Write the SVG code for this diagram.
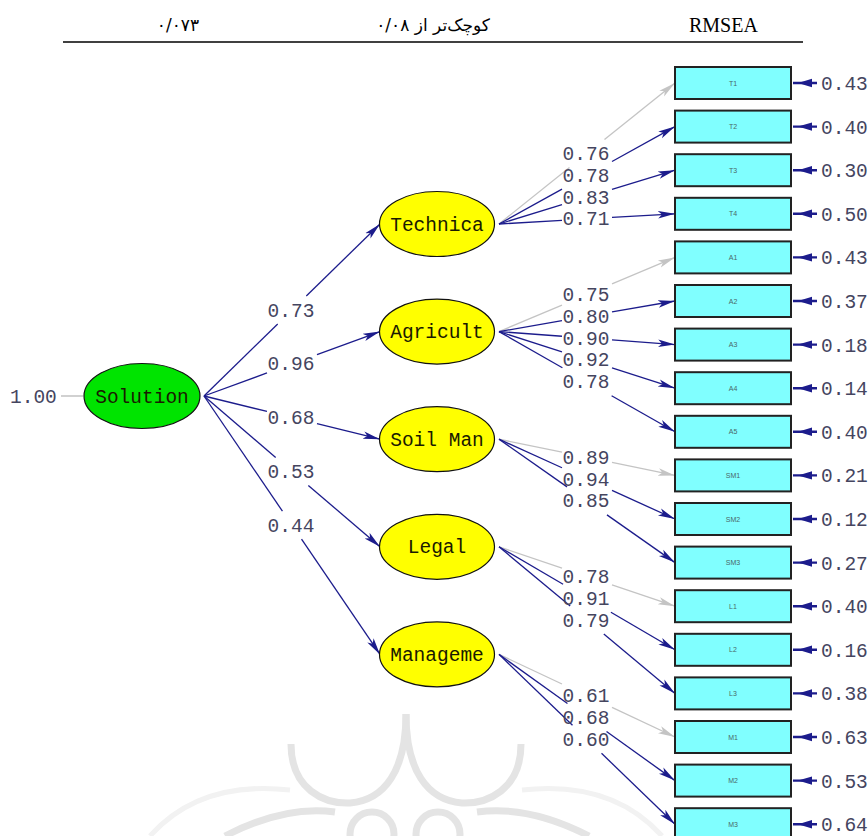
<svg xmlns="http://www.w3.org/2000/svg" width="868" height="836" viewBox="0 0 868 836">
<style>
.ln{stroke:#1c1c8c;stroke-width:1.3;fill:none}
.lg{stroke:#c4c4c4;stroke-width:1.3;fill:none}
.num{font-family:"Liberation Mono",monospace;font-size:19.5px;fill:#45455f}
.numc{font-family:"Liberation Mono",monospace;font-size:19.5px;fill:#45455f;text-anchor:middle}
.lat{fill:#ffff00;stroke:#111;stroke-width:1.2}
.sol{fill:#00e400;stroke:#111;stroke-width:1.2}
.lbl{font-family:"Liberation Mono",monospace;font-size:19.5px;fill:#1a1a00;text-anchor:middle}
.bx{fill:#80ffff;stroke:#222;stroke-width:2}
.bt{font-family:"Liberation Sans",sans-serif;font-size:7px;fill:#4a6868;text-anchor:middle}
.err{stroke:#1c1c8c;stroke-width:2.4;fill:none}
.eh{fill:#1c1c8c}
.wm{stroke:#e4e4e4;stroke-width:7;fill:none}
.wm2{stroke:#f2f2f2;stroke-width:5;fill:none}
.fa{font-family:"DejaVu Sans",sans-serif;font-size:17px;fill:#000;text-anchor:middle}
</style>
<defs>
<marker id="an" markerUnits="userSpaceOnUse" markerWidth="17" markerHeight="10" viewBox="0 0 17 10" refX="17" refY="5" orient="auto">
<path d="M0,1.2 L17,5 L0,8.8 L4,5 z" fill="#1c1c8c"/>
</marker>
<marker id="ag" markerUnits="userSpaceOnUse" markerWidth="17" markerHeight="10" viewBox="0 0 17 10" refX="17" refY="5" orient="auto">
<path d="M0,1.2 L17,5 L0,8.8 L4,5 z" fill="#c4c4c4"/>
</marker>
</defs>
<rect width="868" height="836" fill="#ffffff"/>

<g id="watermark">
<path class="wm2" d="M150,836 Q200,780 290,790"/>
<path class="wm2" d="M662,836 Q612,780 522,790"/>
<path class="wm" d="M291,744 C291,790 325,804 350,803 C385,800 406,770 406,714"/>
<path class="wm" d="M406,714 C406,770 427,800 462,803 C487,804 521,790 521,744"/>
<circle class="wm" cx="372" cy="834" r="22"/>
<circle class="wm" cx="438" cy="834" r="22"/>
<path class="wm" d="M225,836 Q285,805 335,812"/>
<path class="wm" d="M589,836 Q529,805 477,812"/>
</g>

<g id="header">
<text x="689" y="32" font-family="Liberation Serif,serif" font-size="20" fill="#000">RMSEA</text>
<text class="fa" x="433" y="31">کوچک‌تر از ۰/۰۸</text>
<text class="fa" x="178" y="31">۰/۰۷۳</text>
<line x1="63" y1="42" x2="803" y2="42" stroke="#000" stroke-width="1.5"/>
</g>

<g id="connectors">
<line x1="61" y1="396" x2="83" y2="396" stroke="#b8b8b8" stroke-width="1.3"/>
<line class="ln" x1="204" y1="396" x2="277.7" y2="324"/><line class="ln" x1="306.3" y1="296" x2="380" y2="224" marker-end="url(#an)"/>
<line class="ln" x1="204" y1="396" x2="267" y2="372.95"/><line class="ln" x1="317" y1="354.65" x2="380" y2="331.6" marker-end="url(#an)"/>
<line class="ln" x1="204" y1="396" x2="267" y2="411.46"/><line class="ln" x1="317" y1="423.74" x2="380" y2="439.2" marker-end="url(#an)"/>
<line class="ln" x1="204" y1="396" x2="275.66" y2="457.4"/><line class="ln" x1="308.34" y1="485.4" x2="380" y2="546.8" marker-end="url(#an)"/>
<line class="ln" x1="204" y1="396" x2="282.46" y2="511.2"/><line class="ln" x1="301.54" y1="539.2" x2="380" y2="654.4" marker-end="url(#an)"/>
<line class="lg" x1="499" y1="224" x2="569.5" y2="167.5"/><line class="lg" x1="604.5" y1="139.5" x2="675" y2="83" marker-end="url(#ag)"/>
<line class="ln" x1="499" y1="224" x2="562" y2="189.14"/><line class="ln" x1="612" y1="161.46" x2="675" y2="126.6" marker-end="url(#an)"/>
<line class="ln" x1="499" y1="224" x2="562" y2="204.74"/><line class="ln" x1="612" y1="189.46" x2="675" y2="170.2" marker-end="url(#an)"/>
<line class="ln" x1="499" y1="224" x2="562" y2="220.35"/><line class="ln" x1="612" y1="217.45" x2="675" y2="213.8" marker-end="url(#an)"/>
<line class="lg" x1="499" y1="331.6" x2="562" y2="305.04"/><line class="lg" x1="612" y1="283.96" x2="675" y2="257.4" marker-end="url(#ag)"/>
<line class="ln" x1="499" y1="331.6" x2="562" y2="320.65"/><line class="ln" x1="612" y1="311.95" x2="675" y2="301" marker-end="url(#an)"/>
<line class="ln" x1="499" y1="331.6" x2="562" y2="336.25"/><line class="ln" x1="612" y1="339.95" x2="675" y2="344.6" marker-end="url(#an)"/>
<line class="ln" x1="499" y1="331.6" x2="562" y2="351.86"/><line class="ln" x1="612" y1="367.94" x2="675" y2="388.2" marker-end="url(#an)"/>
<line class="ln" x1="499" y1="331.6" x2="562.41" y2="367.7"/><line class="ln" x1="611.59" y1="395.7" x2="675" y2="431.8" marker-end="url(#an)"/>
<line class="lg" x1="499" y1="439.2" x2="562" y2="452.16"/><line class="lg" x1="612" y1="462.44" x2="675" y2="475.4" marker-end="url(#ag)"/>
<line class="ln" x1="499" y1="439.2" x2="562" y2="467.76"/><line class="ln" x1="612" y1="490.44" x2="675" y2="519" marker-end="url(#an)"/>
<line class="ln" x1="499" y1="439.2" x2="567.03" y2="486.9"/><line class="ln" x1="606.97" y1="514.9" x2="675" y2="562.6" marker-end="url(#an)"/>
<line class="lg" x1="499" y1="546.8" x2="562" y2="568.06"/><line class="lg" x1="612" y1="584.94" x2="675" y2="606.2" marker-end="url(#ag)"/>
<line class="ln" x1="499" y1="546.8" x2="563.08" y2="584.3"/><line class="ln" x1="610.92" y1="612.3" x2="675" y2="649.8" marker-end="url(#an)"/>
<line class="ln" x1="499" y1="546.8" x2="570.19" y2="606.1"/><line class="ln" x1="603.81" y1="634.1" x2="675" y2="693.4" marker-end="url(#an)"/>
<line class="lg" x1="499" y1="654.4" x2="562" y2="683.97"/><line class="lg" x1="612" y1="707.43" x2="675" y2="737" marker-end="url(#ag)"/>
<line class="ln" x1="499" y1="654.4" x2="567.47" y2="703.5"/><line class="ln" x1="606.53" y1="731.5" x2="675" y2="780.6" marker-end="url(#an)"/>
<line class="ln" x1="499" y1="654.4" x2="572.49" y2="725.3"/><line class="ln" x1="601.51" y1="753.3" x2="675" y2="824.2" marker-end="url(#an)"/>
<g id="errors">
<path class="err" d="M793,83H817M793,126.6H817M793,170.2H817M793,213.8H817M793,257.4H817M793,301H817M793,344.6H817M793,388.2H817M793,431.8H817M793,475.4H817M793,519H817M793,562.6H817M793,606.2H817M793,649.8H817M793,693.4H817M793,737H817M793,780.6H817M793,824.2H817"/>
<path class="eh" d="M798,83l14,-4.2v8.4zM798,126.6l14,-4.2v8.4zM798,170.2l14,-4.2v8.4zM798,213.8l14,-4.2v8.4zM798,257.4l14,-4.2v8.4zM798,301l14,-4.2v8.4zM798,344.6l14,-4.2v8.4zM798,388.2l14,-4.2v8.4zM798,431.8l14,-4.2v8.4zM798,475.4l14,-4.2v8.4zM798,519l14,-4.2v8.4zM798,562.6l14,-4.2v8.4zM798,606.2l14,-4.2v8.4zM798,649.8l14,-4.2v8.4zM798,693.4l14,-4.2v8.4zM798,737l14,-4.2v8.4zM798,780.6l14,-4.2v8.4zM798,824.2l14,-4.2v8.4z"/>
</g>
<g id="path-labels">
<text class="num" x="10" y="402.5">1.00</text>
<text class="numc" x="291" y="316.5">0.73</text>
<text class="numc" x="291" y="370.3">0.96</text>
<text class="numc" x="291" y="424.1">0.68</text>
<text class="numc" x="291" y="477.9">0.53</text>
<text class="numc" x="291" y="531.7">0.44</text>
<text class="numc" x="586" y="160">0.76</text>
<text class="numc" x="586" y="181.8">0.78</text>
<text class="numc" x="586" y="203.6">0.83</text>
<text class="numc" x="586" y="225.4">0.71</text>
<text class="numc" x="586" y="301">0.75</text>
<text class="numc" x="586" y="322.8">0.80</text>
<text class="numc" x="586" y="344.6">0.90</text>
<text class="numc" x="586" y="366.4">0.92</text>
<text class="numc" x="586" y="388.2">0.78</text>
<text class="numc" x="586" y="463.8">0.89</text>
<text class="numc" x="586" y="485.6">0.94</text>
<text class="numc" x="586" y="507.4">0.85</text>
<text class="numc" x="586" y="583">0.78</text>
<text class="numc" x="586" y="604.8">0.91</text>
<text class="numc" x="586" y="626.6">0.79</text>
<text class="numc" x="586" y="702.2">0.61</text>
<text class="numc" x="586" y="724">0.68</text>
<text class="numc" x="586" y="745.8">0.60</text>
</g>
</g>

<g id="Solution"><ellipse class="sol" cx="142" cy="396" rx="58" ry="32.5"/><text class="lbl" x="142" y="402.5">Solution</text></g>
<g id="Technica"><ellipse class="lat" cx="437" cy="224" rx="57.5" ry="32.5"/><text class="lbl" x="437" y="230.5">Technica</text></g>
<g id="Agricult"><ellipse class="lat" cx="437" cy="331.6" rx="57.5" ry="32.5"/><text class="lbl" x="437" y="338.1">Agricult</text></g>
<g id="SoilMan"><ellipse class="lat" cx="437" cy="439.2" rx="57.5" ry="32.5"/><text class="lbl" x="437" y="445.7">Soil Man</text></g>
<g id="Legal"><ellipse class="lat" cx="437" cy="546.8" rx="57.5" ry="32.5"/><text class="lbl" x="437" y="553.3">Legal</text></g>
<g id="Manageme"><ellipse class="lat" cx="437" cy="654.4" rx="57.5" ry="32.5"/><text class="lbl" x="437" y="660.9">Manageme</text></g>

<g id="T1"><rect class="bx" x="675" y="67" width="116" height="32"/><text class="bt" x="733" y="85.5">T1</text><text class="num" x="821" y="90">0.43</text></g>
<g id="T2"><rect class="bx" x="675" y="110.6" width="116" height="32"/><text class="bt" x="733" y="129.1">T2</text><text class="num" x="821" y="133.6">0.40</text></g>
<g id="T3"><rect class="bx" x="675" y="154.2" width="116" height="32"/><text class="bt" x="733" y="172.7">T3</text><text class="num" x="821" y="177.2">0.30</text></g>
<g id="T4"><rect class="bx" x="675" y="197.8" width="116" height="32"/><text class="bt" x="733" y="216.3">T4</text><text class="num" x="821" y="220.8">0.50</text></g>
<g id="A1"><rect class="bx" x="675" y="241.4" width="116" height="32"/><text class="bt" x="733" y="259.9">A1</text><text class="num" x="821" y="264.4">0.43</text></g>
<g id="A2"><rect class="bx" x="675" y="285" width="116" height="32"/><text class="bt" x="733" y="303.5">A2</text><text class="num" x="821" y="308">0.37</text></g>
<g id="A3"><rect class="bx" x="675" y="328.6" width="116" height="32"/><text class="bt" x="733" y="347.1">A3</text><text class="num" x="821" y="351.6">0.18</text></g>
<g id="A4"><rect class="bx" x="675" y="372.2" width="116" height="32"/><text class="bt" x="733" y="390.7">A4</text><text class="num" x="821" y="395.2">0.14</text></g>
<g id="A5"><rect class="bx" x="675" y="415.8" width="116" height="32"/><text class="bt" x="733" y="434.3">A5</text><text class="num" x="821" y="438.8">0.40</text></g>
<g id="SM1"><rect class="bx" x="675" y="459.4" width="116" height="32"/><text class="bt" x="733" y="477.9">SM1</text><text class="num" x="821" y="482.4">0.21</text></g>
<g id="SM2"><rect class="bx" x="675" y="503" width="116" height="32"/><text class="bt" x="733" y="521.5">SM2</text><text class="num" x="821" y="526">0.12</text></g>
<g id="SM3"><rect class="bx" x="675" y="546.6" width="116" height="32"/><text class="bt" x="733" y="565.1">SM3</text><text class="num" x="821" y="569.6">0.27</text></g>
<g id="L1"><rect class="bx" x="675" y="590.2" width="116" height="32"/><text class="bt" x="733" y="608.7">L1</text><text class="num" x="821" y="613.2">0.40</text></g>
<g id="L2"><rect class="bx" x="675" y="633.8" width="116" height="32"/><text class="bt" x="733" y="652.3">L2</text><text class="num" x="821" y="656.8">0.16</text></g>
<g id="L3"><rect class="bx" x="675" y="677.4" width="116" height="32"/><text class="bt" x="733" y="695.9">L3</text><text class="num" x="821" y="700.4">0.38</text></g>
<g id="M1"><rect class="bx" x="675" y="721" width="116" height="32"/><text class="bt" x="733" y="739.5">M1</text><text class="num" x="821" y="744">0.63</text></g>
<g id="M2"><rect class="bx" x="675" y="764.6" width="116" height="32"/><text class="bt" x="733" y="783.1">M2</text><text class="num" x="821" y="787.6">0.53</text></g>
<g id="M3"><rect class="bx" x="675" y="808.2" width="116" height="32"/><text class="bt" x="733" y="826.7">M3</text><text class="num" x="821" y="831.2">0.64</text></g>
</svg>
